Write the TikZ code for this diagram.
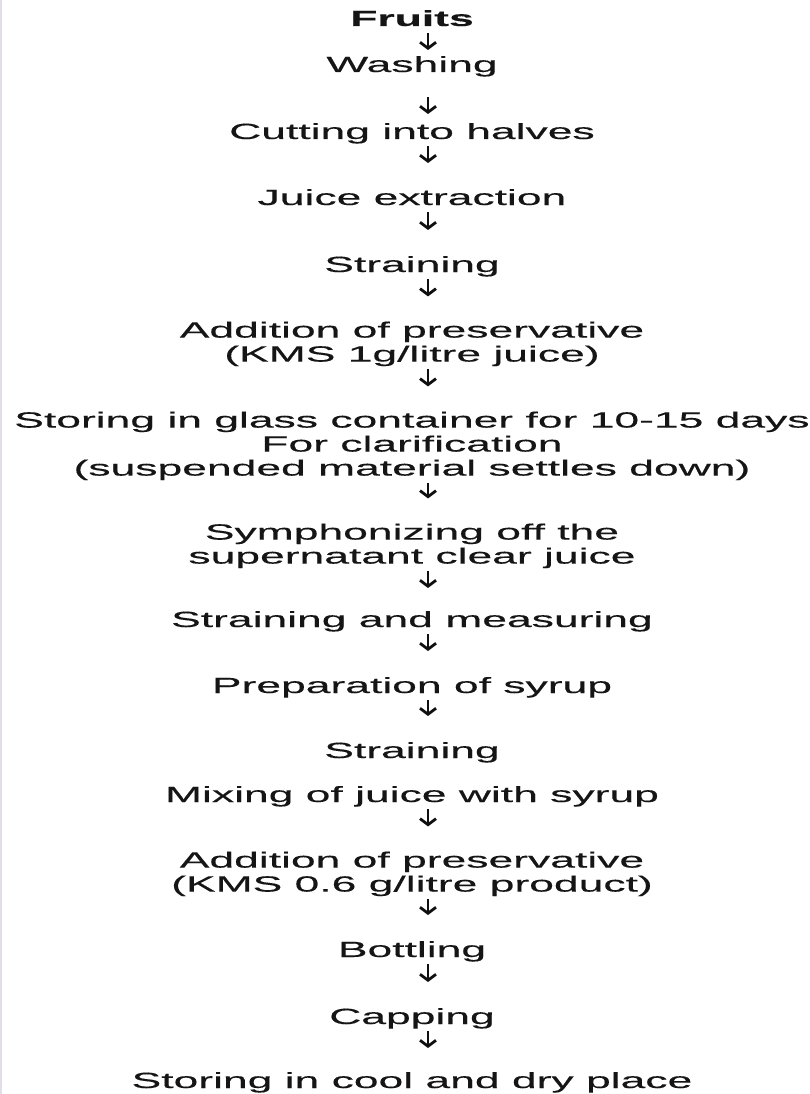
\documentclass[tikz,border=0pt]{standalone}
\usepackage{fontspec}
\usepackage{xcolor}
\usepackage{tikz}
\usetikzlibrary{
  arrows.meta,
  positioning,
  calc
}
\setmainfont{Liberation Sans}[FakeStretch=2.02, FakeBold=0.3]
\definecolor{fpText}{HTML}{151515}
\definecolor{fpArrow}{HTML}{101010}
\definecolor{fpEdge}{HTML}{E3DDE9}
\tikzset{
  fpnode/.style={
    inner sep=0pt, align=center, text=fpText,
    font=\fontsize{22}{24}\selectfont,
    execute at begin node=\strut, execute at end node=\strut
  },
  fptitle/.style={fpnode, font=\fontsize{22}{24}\selectfont\bfseries},
  flow/.style={-{Straight Barb[length=6pt, width=16pt]}, line width=2.8pt,
    fpArrow},
  edgeline/.style={line width=2pt, fpEdge}
}
\begin{document}
\begin{tikzpicture}[x=1pt, y=-1pt]
  \useasboundingbox (0,0) rectangle (810,1094);
  \draw[edgeline] (1,0) -- (1,1094);
  \node[fptitle] (fruits) at (412,21.2) {Fruits};
  \foreach \n/\y/\txt in {
    wash/67.2/{Washing},
    cut/134.2/{Cutting into halves},
    juice/200.2/{Juice extraction},
    strain/267.2/{Straining},
    addkms/345.2/{Addition of preservative\\(KMS 1g/litre juice)},
    store/447.2/{Storing in glass container for 10-15 days\\For clarification\\(suspended material settles down)},
    siphon/547.2/{Symphonizing off the\\supernatant clear juice},
    measure/622.2/{Straining and measuring},
    syrup/688.2/{Preparation of syrup},
    strainb/753.2/{Straining},
    mix/797.2/{Mixing of juice with syrup},
    addkmsb/875.2/{Addition of preservative\\(KMS 0.6 g/litre product)},
    bottle/952.2/{Bottling},
    cap/1019.2/{Capping},
    cool/1083.2/{Storing in cool and dry place}}{
    \node[fpnode] (\n) at (412,\y) {\txt};
  }
  \foreach \a/\b/\sa/\sb in {
    fruits/wash/0/5,
    wash/cut/18/8,
    cut/juice/0/25,
    juice/strain/0/25,
    strain/addkms/0/25,
    addkms/store/0/25,
    store/siphon/0/25,
    siphon/measure/0/22,
    measure/syrup/0/25,
    syrup/strainb/0/25,
    mix/addkmsb/0/25,
    addkmsb/bottle/0/25,
    bottle/cap/0/25,
    cap/cool/0/23}{
    \draw[flow, shorten <=\sa pt, shorten >=\sb pt]
      ([xshift=16pt]\a.south) -- ([xshift=16pt]\b.north);
  }
\end{tikzpicture}
\end{document}
